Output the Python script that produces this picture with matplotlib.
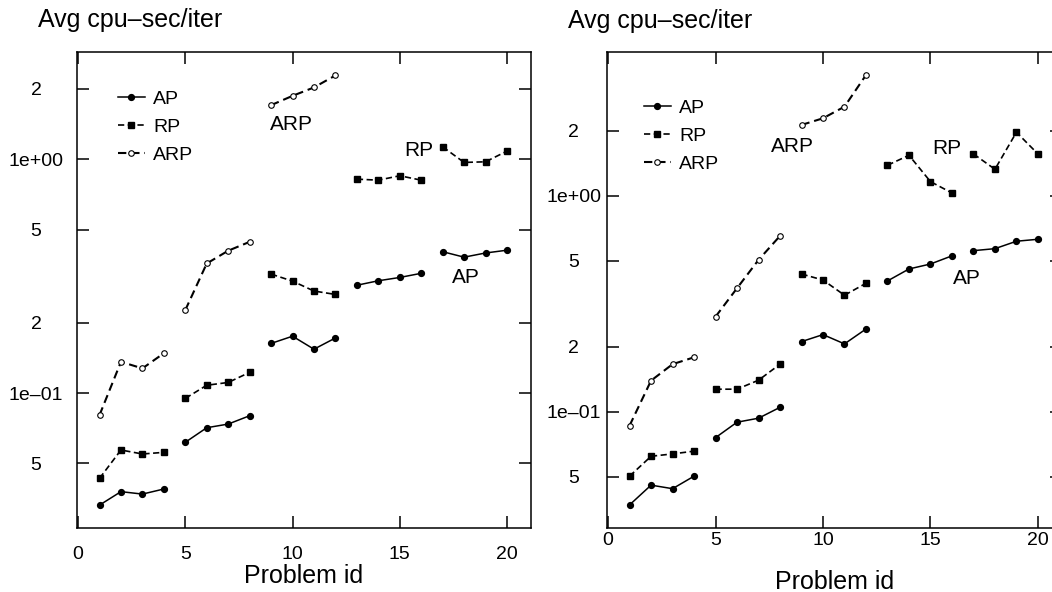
import matplotlib.pyplot as plt
from matplotlib.legend_handler import HandlerLine2D
from matplotlib.lines import Line2D

plt.rcParams['font.family'] = ['Liberation Sans', 'DejaVu Sans']
plt.rcParams['lines.scale_dashes'] = False

problem_id = list(range(1, 21))

# left panel
ap_left = [0.0332, 0.0379, 0.0370, 0.0389,
           0.0616, 0.0711, 0.0737, 0.0800,
           0.163, 0.175, 0.154, 0.172,
           0.289, 0.302, 0.312, 0.325,
           0.402, 0.381, 0.397, 0.408]
rp_left = [0.0432, 0.0571, 0.0549, 0.0558,
           0.0949, 0.108, 0.111, 0.1226,
           0.3225, 0.301, 0.273, 0.264,
           0.821, 0.813, 0.849, 0.813,
           1.129, 0.968, 0.974, 1.082]
arp_left = [0.0805, 0.136, 0.1275, 0.148,
            0.2263, 0.358, 0.406, 0.443,
            1.701, 1.864, 2.025, 2.279]

# right panel
ap_right = [0.0371, 0.0458, 0.0441, 0.0504,
            0.0760, 0.0896, 0.0935, 0.105,
            0.2116, 0.228, 0.2065, 0.242,
            0.404, 0.459, 0.484, 0.528,
            0.558, 0.570, 0.617, 0.630]
rp_right = [0.0504, 0.0623, 0.0639, 0.0658,
            0.1274, 0.1274, 0.1402, 0.1663,
            0.435, 0.408, 0.347, 0.394,
            1.387, 1.543, 1.165, 1.032,
            1.565, 1.329, 1.972, 1.565]
arp_right = [0.0864, 0.1396, 0.1663, 0.179,
             0.276, 0.374, 0.5056, 0.653,
             2.132, 2.289, 2.591, 3.63]

yticks = [2, 1, 0.5, 0.2, 0.1, 0.05]
ytick_labels = ['2', '1e+00', '5', '2', '1e\u201301', '5']
xticks = [0, 5, 10, 15, 20]

styles = {
    'AP': dict(color='black', lw=1.1, marker='o', ms=4.2, mfc='black', mec='black'),
    'RP': dict(color='black', lw=1.2, marker='s', ms=4.6, mfc='black', mec='black',
               dashes=(4.5, 2.5)),
    'ARP': dict(color='black', lw=1.5, marker='o', ms=4, mfc='white', mec='black',
                mew=0.8, dashes=(6, 3.5)),
}


class LeftMarker(HandlerLine2D):
    # marker at the start of the legend line, like the S-plus key
    def get_xdata(self, legend, xdescent, ydescent, width, height, fontsize):
        return [-xdescent, -xdescent + width], [-xdescent]


def panel(ax, series, ylim, labels, leg_anchor, ylab_pad, xlab_pad, xlabelpad):
    for name, vals in series:
        for g in range(0, len(vals), 4):
            ax.plot(problem_id[g:g + 4], vals[g:g + 4], **styles[name])
    ax.set_yscale('log')
    ax.set_xlim(-0.05, 21.12)
    ax.set_ylim(*ylim)
    ax.set_xticks(xticks)
    ax.set_yticks(yticks)
    ax.set_yticklabels(ytick_labels)
    ax.minorticks_off()
    ax.tick_params(direction='in', length=8.6, width=1.1, top=True, right=True,
                   labelsize=14)
    ax.tick_params(axis='y', pad=ylab_pad)
    ax.tick_params(axis='x', pad=xlab_pad)
    for t in ax.get_yticklabels():
        t.set_horizontalalignment('center')
    for s in ax.spines.values():
        s.set_linewidth(1.1)
    ax.set_xlabel('Problem id', fontsize=18, labelpad=xlabelpad)
    for txt, x, y in labels:
        ax.text(x, y, txt, ha='center', va='center', fontsize=15)
    handles = [Line2D([], [], **styles[n]) for n in ['AP', 'RP', 'ARP']]
    ax.legend(handles, ['AP', 'RP', 'ARP'], loc='upper left', bbox_to_anchor=leg_anchor,
              frameon=False, fontsize=14, handlelength=1.4, handletextpad=0.41,
              labelspacing=0.53, borderpad=0, borderaxespad=0,
              handler_map={Line2D: LeftMarker()})


fig = plt.figure(figsize=(10.52, 5.92), dpi=100)
W, H = 1052, 592
ax1 = fig.add_axes([77 / W, 1 - 528 / H, 454 / W, 476 / H])
ax2 = fig.add_axes([607 / W, 1 - 528 / H, 455 / W, 476 / H])

panel(ax1, [('AP', ap_left), ('RP', rp_left), ('ARP', arp_left)],
      (0.0265, 2.87),
      [('ARP', 9.95, 1.40), ('RP', 15.9, 1.09), ('AP', 18.1, 0.313)],
      (0.09, 0.92), 29.5, 13, 1)
panel(ax2, [('AP', ap_right), ('RP', rp_right), ('ARP', arp_right)],
      (0.029, 4.64),
      [('ARP', 8.56, 1.686), ('RP', 15.77, 1.65), ('AP', 16.7, 0.413)],
      (0.081, 0.90), 24, 3, 15)

fig.text(38 / W, 1 - 8 / H, 'Avg cpu\u2013sec/iter', fontsize=18, va='top')
fig.text(568 / W, 1 - 9 / H, 'Avg cpu\u2013sec/iter', fontsize=18, va='top')

fig.savefig('out.png', dpi=100)
